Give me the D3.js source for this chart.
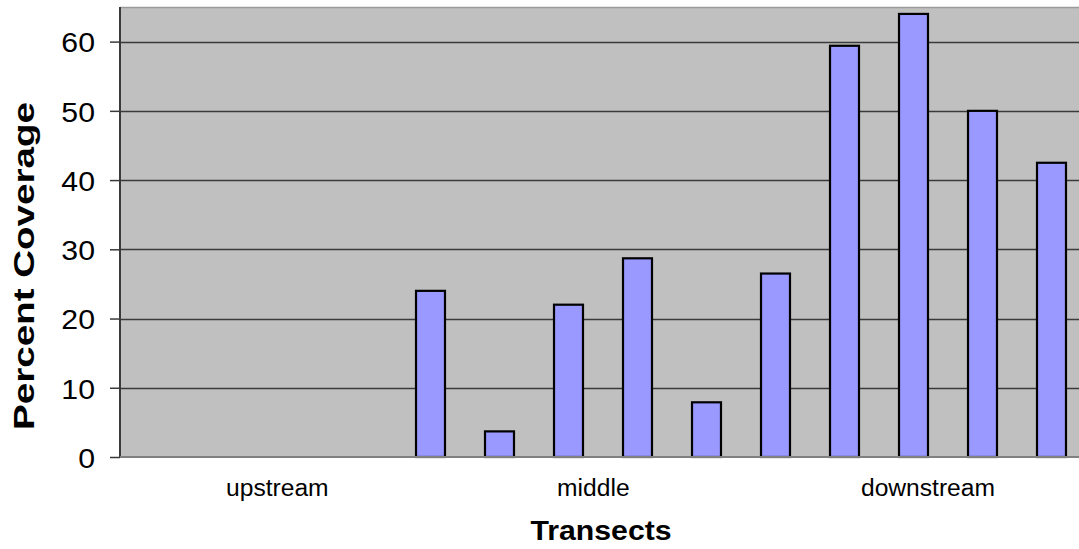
<!DOCTYPE html>
<html>
<head>
<meta charset="utf-8">
<script src="https://cdn.jsdelivr.net/npm/d3@7"></script>
<style>
  html, body { margin: 0; padding: 0; background: #fff; }
  svg { display: block; font-family: "Liberation Sans", Arial, sans-serif; }
</style>
</head>
<body>
<svg id="chart" width="1079" height="549"></svg>
<script>
// Transects along the stream, in order
const transects = ["T1", "T2", "T3", "T4", "T5", "T6", "T7", "T8", "T9", "T10", "T11", "T12", "T13", "T14"];
// Percent coverage per transect (null = no cover recorded)
const coverage = [null, null, null, null, 24, 3.7, 22, 28.7, 7.9, 26.5, 59.4, 64, 50, 42.5];
// Reach labels along the x axis
const reachLabels = ["upstream", "middle", "downstream"];
// Y axis ticks
const yTicks = [0, 10, 20, 30, 40, 50, 60];

// layout
const plot = { left: 120, top: 7, bottom: 457, step: 69 };
const reachLabelAt = [2.28, 6.86, 11.71];   // positions in category units

const svg = d3.select("#chart");

const x = d3.scaleBand()
  .domain(transects)
  .range([plot.left, plot.left + plot.step * transects.length])
  .paddingInner(0.58)
  .paddingOuter(0.29);

const y = d3.scaleLinear().domain([0, 65]).range([plot.bottom, plot.top]);

const catPos = d3.scaleLinear().domain([0, transects.length]).range(x.range());

function stretch(sel, factor) {
  sel.each(function () {
    const w = this.getComputedTextLength();
    d3.select(this).attr("textLength", w * factor).attr("lengthAdjust", "spacingAndGlyphs");
  });
}

// plot background
svg.append("rect")
  .attr("x", plot.left).attr("y", plot.top)
  .attr("width", 1079 - plot.left).attr("height", plot.bottom - plot.top)
  .attr("fill", "#c0c0c0");

// top border
svg.append("line")
  .attr("x1", plot.left).attr("x2", 1079)
  .attr("y1", plot.top + 0.5).attr("y2", plot.top + 0.5)
  .attr("stroke", "#9a9a9a").attr("stroke-width", 1.5);

// gridlines
svg.append("g")
  .selectAll("line")
  .data(yTicks.filter(d => d > 0))
  .join("line")
  .attr("x1", plot.left).attr("x2", 1079)
  .attr("y1", d => Math.round(y(d)) + 0.5).attr("y2", d => Math.round(y(d)) + 0.5)
  .attr("stroke", "#3a3a3a").attr("stroke-width", 1.5);

// y axis
const yAxis = svg.append("g")
  .attr("transform", `translate(${plot.left},0)`)
  .call(d3.axisLeft(y).tickValues(yTicks).tickSize(10).tickPadding(15));
yAxis.select(".domain").remove();
yAxis.selectAll(".tick line").attr("stroke", "#3a3a3a").attr("stroke-width", 1.5);
yAxis.selectAll(".tick text")
  .attr("fill", "#000")
  .style("font-size", "28px")
  .style("font-family", "'Liberation Sans', Arial, sans-serif")
  .attr("dy", "0.37em")
  .call(stretch, 1.08);

// bars
svg.append("g")
  .selectAll("rect")
  .data(transects.map((t, i) => ({ t, v: coverage[i] })).filter(d => d.v != null))
  .join("rect")
  .attr("x", d => x(d.t))
  .attr("y", d => y(d.v))
  .attr("width", x.bandwidth())
  .attr("height", d => y(0) - y(d.v))
  .attr("fill", "#9999ff")
  .attr("stroke", "#000")
  .attr("stroke-width", 2.2);

// left axis line and baseline
svg.append("line")
  .attr("x1", plot.left).attr("x2", plot.left)
  .attr("y1", plot.top).attr("y2", plot.bottom)
  .attr("stroke", "#3a3a3a").attr("stroke-width", 2);
svg.append("line")
  .attr("x1", plot.left).attr("x2", 1079)
  .attr("y1", plot.bottom).attr("y2", plot.bottom)
  .attr("stroke", "#808080").attr("stroke-width", 2);

// reach labels
svg.append("g")
  .selectAll("text")
  .data(reachLabels)
  .join("text")
  .attr("x", (d, i) => catPos(reachLabelAt[i]))
  .attr("y", 496)
  .attr("text-anchor", "middle")
  .style("font-size", "23px")
  .text(d => d)
  .call(stretch, 1.07);

// axis titles
svg.append("text")
  .attr("x", 601).attr("y", 540)
  .attr("text-anchor", "middle")
  .style("font-size", "28px").attr("font-weight", "bold")
  .text("Transects")
  .call(stretch, 1.08);

svg.append("text")
  .attr("transform", "translate(34,266) rotate(-90)")
  .attr("text-anchor", "middle")
  .style("font-size", "29px").attr("font-weight", "bold")
  .text("Percent Coverage")
  .each(function () {
    d3.select(this).attr("textLength", 328).attr("lengthAdjust", "spacingAndGlyphs");
  });
</script>
</body>
</html>
